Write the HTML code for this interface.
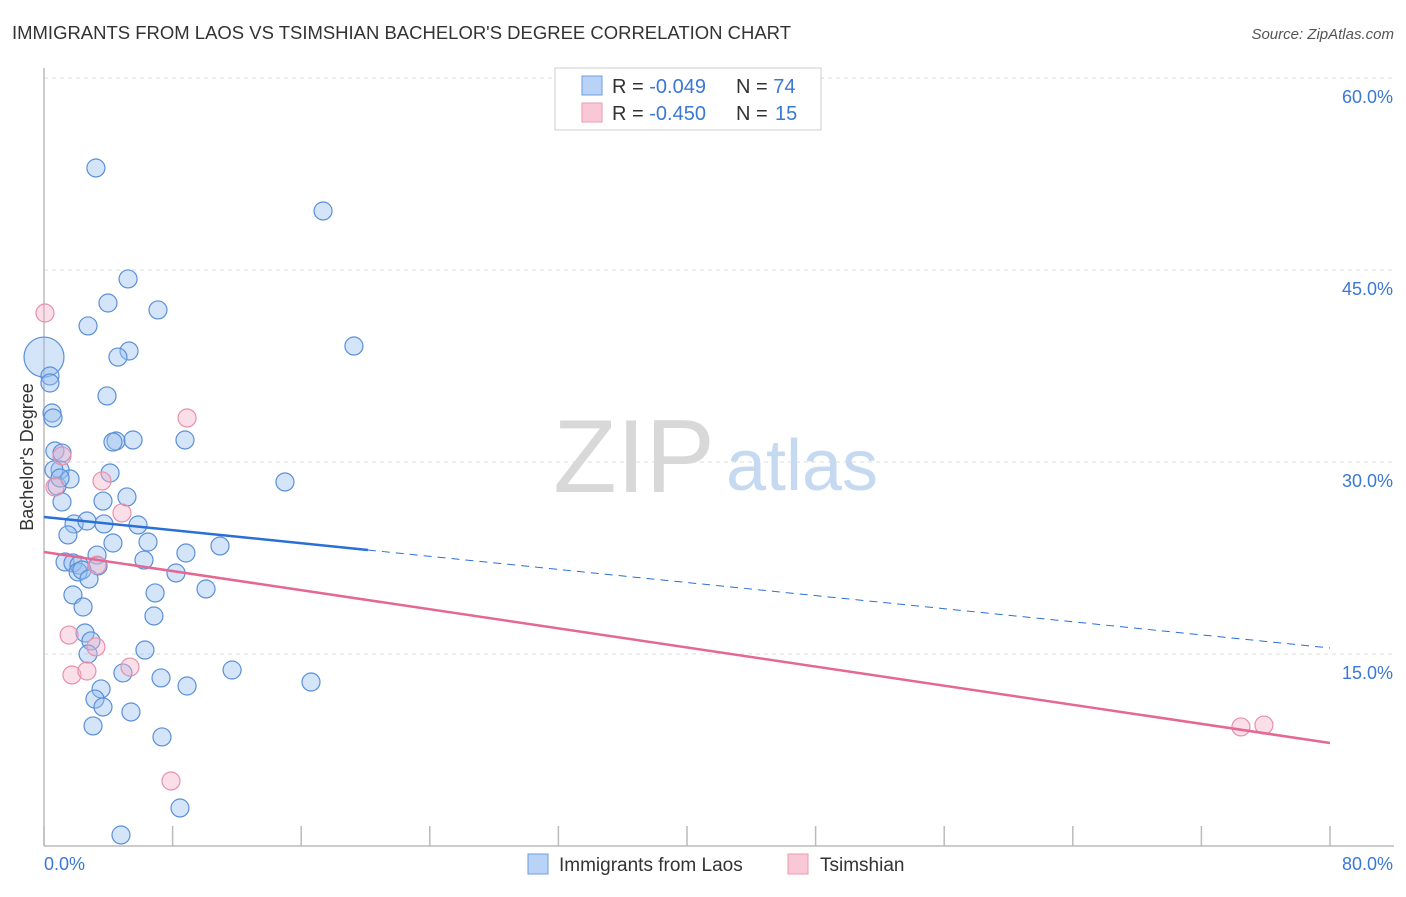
<!DOCTYPE html>
<html><head><meta charset="utf-8"><style>
body{margin:0;background:#fff;font-family:"Liberation Sans",sans-serif;}
svg text{font-family:"Liberation Sans",sans-serif;}
</style></head><body>
<svg id="chart" width="1406" height="892">
<text x="12" y="39" font-size="18" fill="#333" textLength="779" lengthAdjust="spacingAndGlyphs">IMMIGRANTS FROM LAOS VS TSIMSHIAN BACHELOR'S DEGREE CORRELATION CHART</text>
<text x="1394" y="39" font-size="15" fill="#555" font-style="italic" text-anchor="end">Source: ZipAtlas.com</text>
<g id="grid"></g>
<g>
<text x="634" y="492" font-size="104" fill="#d8d8d8" font-family="Liberation Serif" text-anchor="middle">ZIP</text>
<text x="802" y="490" font-size="72" fill="#c5d9f1" text-anchor="middle">atlas</text>
</g>
<line x1="44" y1="68" x2="44" y2="846" stroke="#bbb" stroke-width="1.5"/>
<line x1="44" y1="846" x2="1394" y2="846" stroke="#bbb" stroke-width="1.5"/>
<text x="33" y="457" font-size="18" fill="#333" text-anchor="middle" transform="rotate(-90 33 457)">Bachelor's Degree</text>
<text x="44" y="870" font-size="18" fill="#3a78d4">0.0%</text>
<text x="1393" y="870" font-size="18" fill="#3a78d4" text-anchor="end">80.0%</text>
<g id="points"></g>
<g id="lines"></g>
<g>
<rect x="555" y="68" width="266" height="62" fill="#fff" stroke="#ccc"/>
<rect x="582" y="76" width="20" height="19" fill="#b8d3f5" stroke="#6f9ee0"/>
<rect x="582" y="103" width="20" height="19" fill="#f9c8d6" stroke="#ea9ab2"/>
<text x="612" y="93" font-size="20" fill="#333">R = <tspan fill="#3a78d4">-0.049</tspan></text>
<text x="736" y="93" font-size="20" fill="#333">N = <tspan fill="#3a78d4">74</tspan></text>
<text x="612" y="120" font-size="20" fill="#333">R = <tspan fill="#3a78d4">-0.450</tspan></text>
<text x="736" y="120" font-size="20" fill="#333">N = <tspan fill="#3a78d4" x="775">15</tspan></text>
</g>
<g>
<rect x="528" y="854" width="20" height="20" fill="#b8d3f5" stroke="#6f9ee0"/>
<text x="559" y="871" font-size="19" fill="#333">Immigrants from Laos</text>
<rect x="788" y="854" width="20" height="20" fill="#f9c8d6" stroke="#ea9ab2"/>
<text x="820" y="871" font-size="19" fill="#333">Tsimshian</text>
</g>
</svg>
<script>
const yTicks=[15,30,45,60];
const yTickLabels=["15.0%","30.0%","45.0%","60.0%"];
const xTicks=[0,8,16,24,32,40,48,56,64,72,80];
const laosX=[3.23,17.36,5.23,3.98,7.09,2.74,5.29,4.60,19.28,0.0,0.37,0.37,3.92,0.50,0.56,4.48,4.29,5.54,8.77,0.68,1.12,1.00,4.11,0.81,1.62,1.12,3.67,5.16,14.99,1.87,2.67,3.73,5.85,1.49,4.29,6.47,3.30,6.22,8.83,10.95,1.31,1.80,2.18,2.12,3.36,2.36,2.80,8.21,10.08,1.80,6.91,2.43,6.84,2.55,2.92,2.74,6.28,11.70,4.91,7.28,16.61,3.55,8.90,3.17,3.67,5.41,3.05,7.34,8.46,4.79,0.62,1.00];
const laosY=[52.97,49.61,44.30,42.42,41.88,40.63,38.67,38.20,39.06,38.20,36.72,36.17,35.16,33.83,33.44,31.64,31.56,31.72,31.72,30.86,30.70,29.38,29.14,28.13,28.67,26.88,26.95,27.27,28.44,25.16,25.39,25.16,25.08,24.30,23.67,23.75,22.73,22.34,22.89,23.44,22.19,22.11,21.95,21.41,21.88,21.56,20.86,21.33,20.08,19.61,19.77,18.67,17.97,16.64,16.02,15.00,15.31,13.75,13.52,13.13,12.81,12.27,12.50,11.48,10.86,10.47,9.38,8.52,2.97,0.86,29.38,28.75];
const tsimX=[0.06,8.90,1.12,3.61,0.68,4.85,3.30,1.56,3.23,1.74,2.67,5.35,7.90,74.46,75.89];
const tsimY=[41.64,33.44,30.47,28.52,28.05,26.02,21.95,16.48,15.55,13.36,13.67,13.98,5.08,9.30,9.45];
const laosTrend=[25.70,15.47];
const tsimTrend=[22.97,8.05];
const laosSolidEnd=20.15;

const NS="http://www.w3.org/2000/svg";
const xS=v=>44+v*(1286/80);
const yS=v=>846-v*12.8;
function mk(tag,attrs,parent){const e=document.createElementNS(NS,tag);for(const k in attrs)e.setAttribute(k,attrs[k]);parent.appendChild(e);return e;}
const grid=document.getElementById('grid');
yTicks.forEach((t,i)=>{
 const l=mk('line',{x1:44,x2:1394,y1:yS(t),y2:yS(t),stroke:'#ddd','stroke-dasharray':'4,4'},grid);
 
 
 const tx=mk('text',{x:1393,y:yS(t)+25,'font-size':18,fill:'#3a78d4','text-anchor':'end'},grid);
 tx.textContent=yTickLabels[i];
 
 
});
xTicks.forEach(t=>{
 const l=mk('line',{x1:xS(t),x2:xS(t),y1:826,y2:846,stroke:'#bbb','stroke-width':1.5},grid);
 
 
});
const pts=document.getElementById('points');
laosX.forEach((x,i)=>{
 const c=mk('circle',{cx:xS(x),cy:yS(laosY[i]),r:(i===9?20:9),fill:'rgba(150,190,240,0.4)',stroke:'#5a8fd8','stroke-width':1.2},pts);
 
 
});
tsimX.forEach((x,i)=>{
 const c=mk('circle',{cx:xS(x),cy:yS(tsimY[i]),r:9,fill:'rgba(246,175,198,0.4)',stroke:'#e890aa','stroke-width':1.2},pts);
 
 
});
const ln=document.getElementById('lines');
const lt=x=>laosTrend[0]+(laosTrend[1]-laosTrend[0])*x/80;
let a=mk('line',{x1:xS(0),y1:yS(lt(0)),x2:xS(laosSolidEnd),y2:yS(lt(laosSolidEnd)),stroke:'#2a6fd6','stroke-width':2.5},ln);


let b=mk('line',{x1:xS(laosSolidEnd),y1:yS(lt(laosSolidEnd)),x2:xS(80),y2:yS(lt(80)),stroke:'#2a6fd6','stroke-width':1,'stroke-dasharray':'8,6'},ln);


let c=mk('line',{x1:xS(0),y1:yS(tsimTrend[0]),x2:xS(80),y2:yS(tsimTrend[1]),stroke:'#e46892','stroke-width':2.5},ln);


</script>
</body></html>
